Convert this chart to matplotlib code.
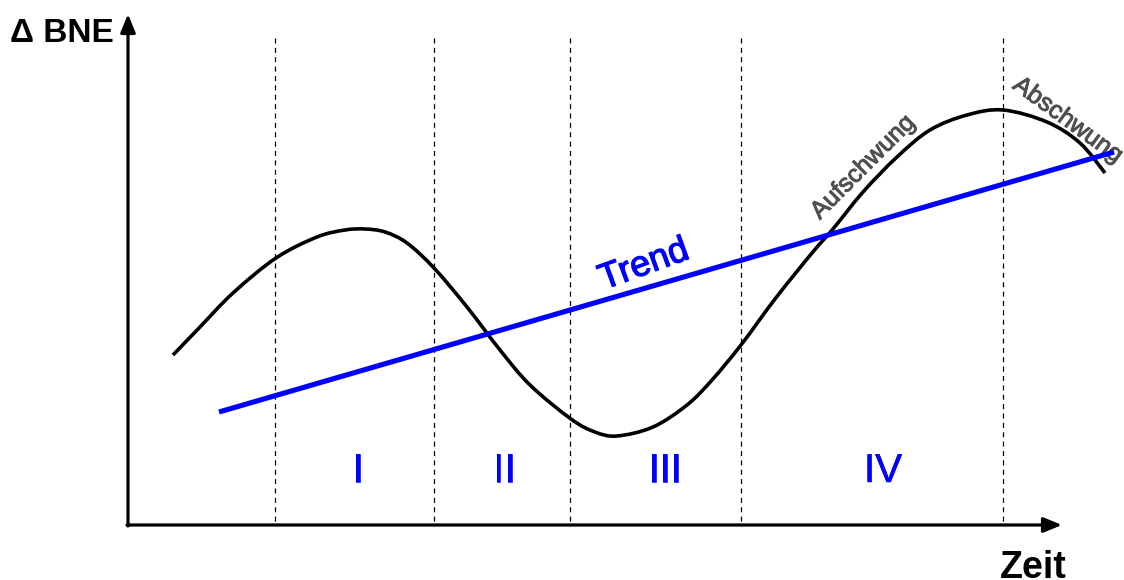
import matplotlib
matplotlib.use('Agg')
import matplotlib.pyplot as plt
import matplotlib.patheffects as pe
import numpy as np
from matplotlib.path import Path
from matplotlib.patches import PathPatch

plt.rcParams['font.family'] = ['Liberation Sans', 'DejaVu Sans']

# business cycle curve (x, y in drawing units, y grows downward)
cycle_x = [173, 200, 233, 276, 317, 345, 365, 385, 407, 434, 467, 500, 530, 571,
           595, 617, 653, 687, 712, 741, 775, 812, 833, 863, 897, 930, 967, 1003,
           1047, 1080, 1105]
cycle_y = [355, 327, 293, 258, 237, 230, 229, 232, 243, 268, 307, 350, 385, 419,
           432, 436, 427, 405, 380, 345, 299, 253, 229, 192, 157, 130, 115, 110,
           122, 143, 173]

# long-run trend
trend_x = [219, 1114]
trend_y = [412, 152]

# phase boundaries and phase labels
phase_bounds = [275, 434, 570, 741, 1003]
phase_names = ['I', 'II', 'III', 'IV']
phase_label_x = [358, 504, 665, 883]


def smooth_path(xs, ys):
    """Cubic Bezier path through the given points (Catmull-Rom tangents)."""
    pts = np.column_stack([xs, ys]).astype(float)
    n = len(pts)
    verts = [pts[0]]
    codes = [Path.MOVETO]
    for i in range(n - 1):
        p0 = pts[max(i - 1, 0)]
        p1 = pts[i]
        p2 = pts[i + 1]
        p3 = pts[min(i + 2, n - 1)]
        c1 = p1 + (p2 - p0) / 6.0
        c2 = p2 - (p3 - p1) / 6.0
        verts += [c1, c2, p2]
        codes += [Path.CURVE4] * 3
    return Path(verts, codes)


def heavier(color, width):
    return [pe.withStroke(linewidth=width, foreground=color)]


W, H = 1124, 580
fig = plt.figure(figsize=(W / 100, H / 100), dpi=100)
ax = fig.add_axes([0, 0, 1, 1])
ax.set_xlim(0, W)
ax.set_ylim(H, 0)
ax.axis('off')

origin_x, origin_y = 128, 525

# axes with arrow heads
arrow = dict(arrowstyle='-|>,head_length=1.1,head_width=0.45', lw=2.3,
             color='black', shrinkA=0, shrinkB=0)
ax.annotate('', xy=(origin_x, 14), xytext=(origin_x, origin_y + 1), arrowprops=arrow)
ax.annotate('', xy=(1062, origin_y), xytext=(origin_x - 1, origin_y), arrowprops=arrow)

# dashed phase separators
for xb in phase_bounds:
    ax.plot([xb, xb], [38, origin_y], color='black', lw=0.9,
            dashes=(4, 3.5), zorder=1)

ax.add_patch(PathPatch(smooth_path(cycle_x, cycle_y), facecolor='none',
                       edgecolor='black', lw=2.6, capstyle='butt', zorder=3))
ax.plot(trend_x, trend_y, color='#0000ff', lw=3.7, solid_capstyle='butt', zorder=4)

blue = '#0000ff'
grey = '#505050'
for name, xl in zip(phase_names, phase_label_x):
    ax.text(xl, 482, name, color=blue, fontsize=29, ha='center', va='baseline',
            path_effects=heavier(blue, 0.4))

ax.text(644, 265, 'Trend', color=blue, fontsize=26, rotation=20,
        ha='center', va='center', rotation_mode='anchor',
        path_effects=heavier(blue, 0.9))
ax.text(863, 167, 'Aufschwung', color=grey, fontsize=18, rotation=45,
        ha='center', va='center', rotation_mode='anchor',
        path_effects=heavier(grey, 0.7))
ax.text(1068, 120, 'Abschwung', color=grey, fontsize=18, rotation=-36,
        ha='center', va='center', rotation_mode='anchor',
        path_effects=heavier(grey, 0.7))

ax.text(10, 42, 'Δ BNE', fontsize=24, fontweight='bold', ha='left', va='baseline')
ax.text(1000, 578, 'Zeit', fontsize=27, fontweight='bold', ha='left', va='baseline')

fig.savefig('out.png', dpi=100, facecolor='white')
